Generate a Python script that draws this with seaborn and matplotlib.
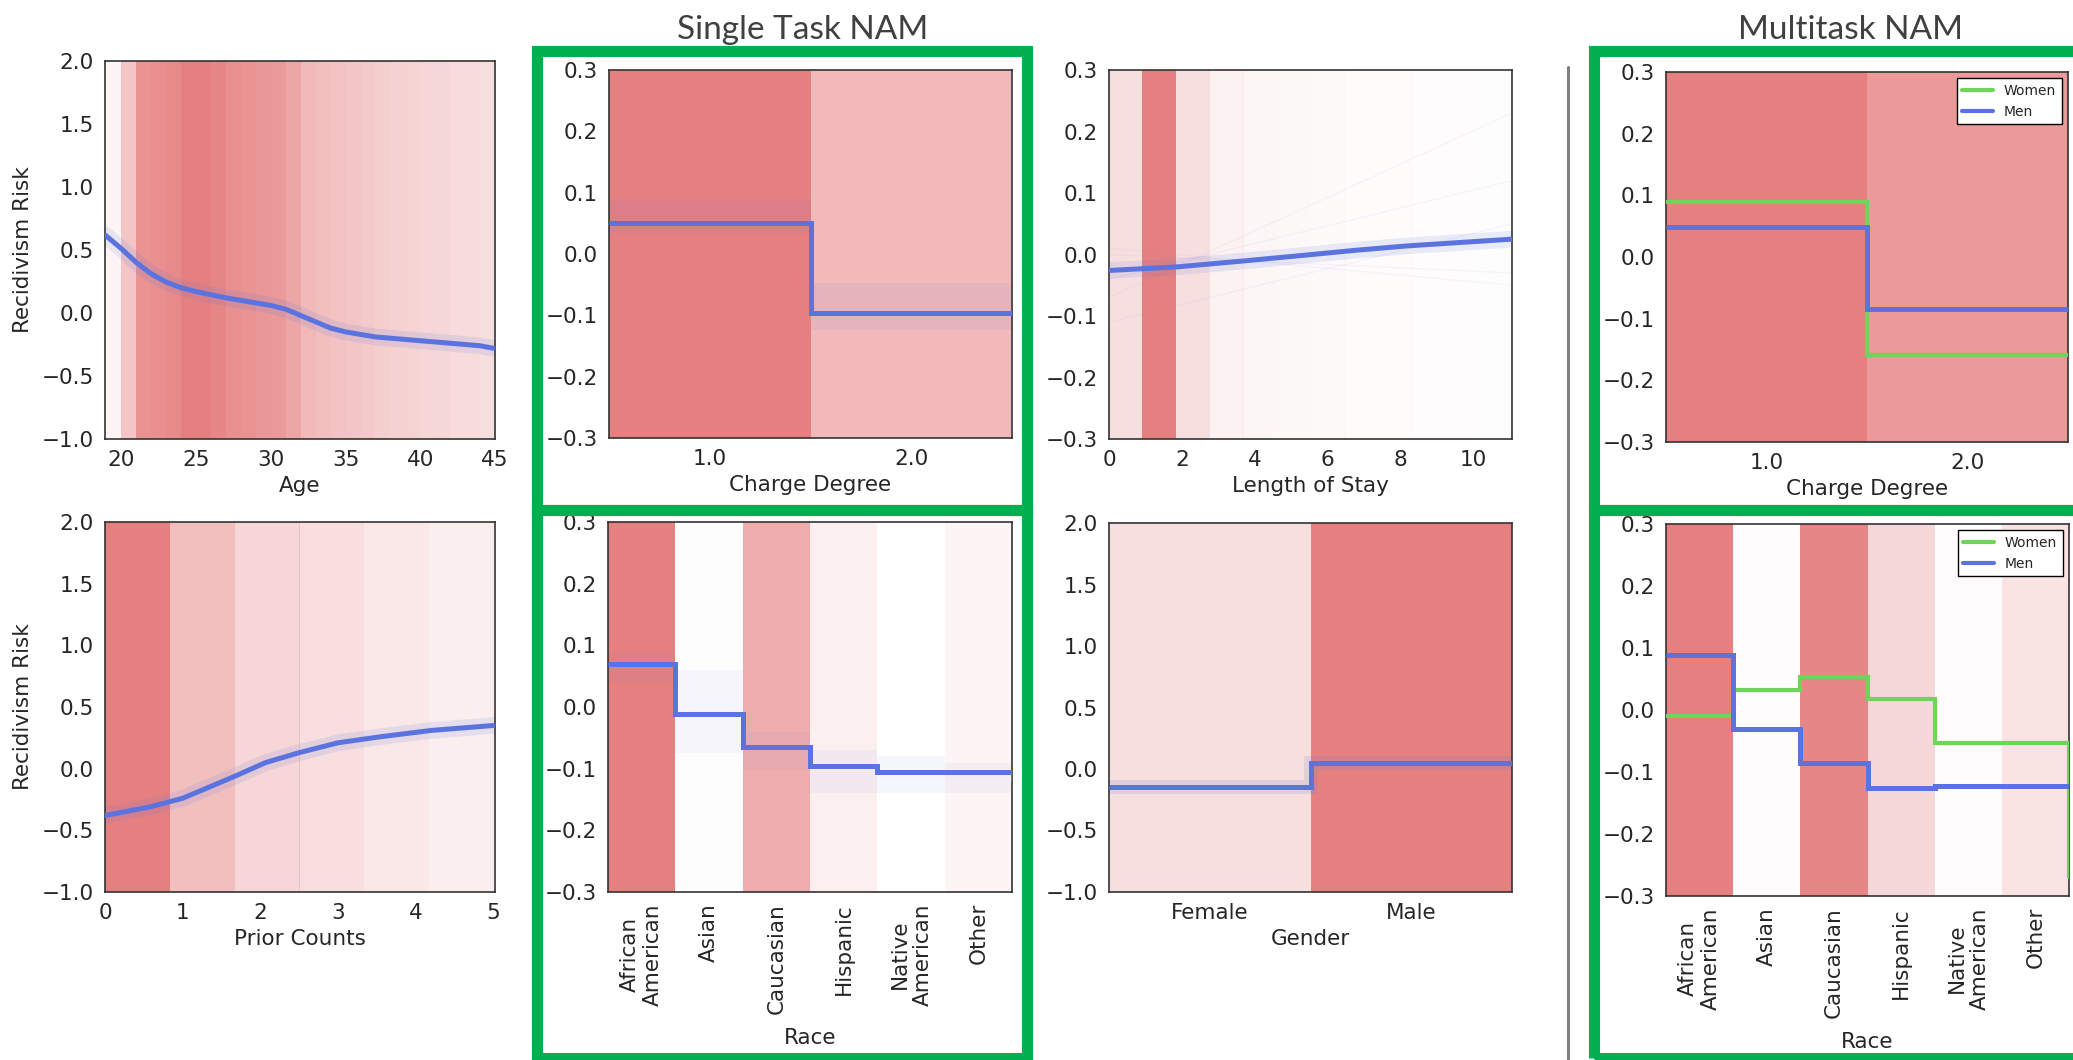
import numpy as np
import pandas as pd
import matplotlib
matplotlib.use("Agg")
import matplotlib.pyplot as plt
import seaborn as sns
from matplotlib.patches import Rectangle
from matplotlib.lines import Line2D
from matplotlib.ticker import FuncFormatter

# ---------------- data ----------------
# Age
age_bin_start = list(range(18, 45))
age_density = [0.08, 0.08, 0.45, 0.85, 0.88, 0.92, 1.0, 1.0, 0.95, 0.88, 0.85, 0.82,
               0.8, 0.7, 0.55, 0.5, 0.48, 0.45, 0.42, 0.38, 0.36, 0.34, 0.32, 0.3,
               0.28, 0.27, 0.25]
age_x = [18.9, 20.0, 21.0, 22.0, 23.0, 24.0, 25.0, 26.0, 27.0, 28.0, 29.0, 30.0, 31.0,
         32.0, 33.0, 34.0, 35.0, 36.0, 37.0, 38.0, 40.0, 42.0, 44.0, 44.9]
age_y = [0.62, 0.51, 0.40, 0.31, 0.245, 0.20, 0.17, 0.145, 0.12, 0.10, 0.08, 0.06, 0.03,
         -0.02, -0.07, -0.12, -0.15, -0.17, -0.19, -0.20, -0.22, -0.24, -0.26, -0.28]
age_ticks = [20, 25, 30, 35, 40, 45]

# Prior counts
prior_bin_start = [0.0, 0.833, 1.667, 2.5, 3.333, 4.167]
prior_bin_width = 0.84
prior_density = [1.0, 0.5, 0.32, 0.26, 0.18, 0.13]
prior_x = [0.0, 0.58, 1.0, 1.64, 2.07, 2.5, 3.0, 3.56, 4.2, 5.0]
prior_y = [-0.38, -0.31, -0.24, -0.07, 0.05, 0.13, 0.21, 0.26, 0.31, 0.35]

# Charge degree (single task)
charge_levels = [1.0, 2.0]
charge_labels = ["1.0", "2.0"]
charge_density = [1.0, 0.55]
charge_single = [0.051, -0.097]
charge_single_lo = [0.034, -0.124]
charge_single_hi = [0.088, -0.047]

# Length of stay
los_bin_start = [0.0, 0.92, 1.85, 2.77, 3.69, 4.61, 5.54, 6.46, 7.38, 8.30, 9.23, 10.15]
los_bin_width = 0.93
los_density = [0.25, 1.0, 0.25, 0.1, 0.07, 0.05, 0.04, 0.03, 0.03, 0.02, 0.02, 0.01]
los_x = [0.0, 1.9, 3.6, 5.4, 6.8, 8.2, 11.07]
los_y = [-0.026, -0.02, -0.011, -0.001, 0.007, 0.014, 0.025]
los_ens_start = [-0.11, -0.07, -0.04, 0.0, 0.01]
los_ens_end = [0.05, 0.23, 0.12, -0.03, -0.05]
los_ticks = [0, 2, 4, 6, 8, 10]

# Race (single task)
race_levels = ["African\nAmerican", "Asian", "Caucasian", "Hispanic", "Native\nAmerican", "Other"]
race_density_single = [1.0, 0.01, 0.65, 0.12, 0.0, 0.08]
race_single = [0.07, -0.012, -0.065, -0.095, -0.106, -0.106]
race_single_end = -0.12
race_single_lo = [0.04, -0.075, -0.1, -0.14, -0.14, -0.14]
race_single_hi = [0.09, 0.06, -0.04, -0.07, -0.08, -0.09]

# Gender
gender_levels = ["Female", "Male"]
gender_density = [0.25, 1.0]
gender_y = [-0.15, 0.05]

# Multitask charge degree
mt_charge_density = [1.0, 0.8]
mt_charge_women = [0.09, -0.159]
mt_charge_men = [0.049, -0.085]

# Multitask race
mt_race_density = [1.0, 0.02, 0.95, 0.3, 0.02, 0.22]
mt_race_men = [0.089, -0.031, -0.085, -0.125, -0.122, -0.122]
mt_race_women = [-0.01, 0.032, 0.054, 0.017, -0.054, -0.054]
mt_race_women_end = -0.27

# ---------------- style ----------------
sns.set_style("white")
plt.rcParams['font.family'] = ['DejaVu Sans']

BLUE = '#5B73DF'
GREEN = '#6ED45A'
RED = (0.9, 0.5, 0.5)
BOXGREEN = '#00B050'
FS = 15.5
TXT = '#262626'

W, H = 2073, 1060
DPI = 100
fig = plt.figure(figsize=(W / DPI, H / DPI), dpi=DPI)
fig.patch.set_facecolor('white')


def add_ax(x0, y0, x1, y1):
    return fig.add_axes([x0 / W, 1 - y1 / H, (x1 - x0) / W, (y1 - y0) / H])


def fmt(v, p):
    if abs(v) < 1e-9:
        v = 0.0
    return f'{v:.1f}'.replace('-', '\u2212')


def style(ax, xlim, ylim, yticks):
    ax.set_xlim(*xlim)
    ax.set_ylim(*ylim)
    ax.set_yticks(yticks)
    ax.yaxis.set_major_formatter(FuncFormatter(fmt))
    ax.tick_params(length=0, pad=8, labelsize=FS, colors=TXT)
    for s in ax.spines.values():
        s.set_visible(True)
        s.set_color('#333333')
        s.set_linewidth(1.2)
    ax.grid(False)
    ax.set_facecolor('white')


def shade(ax, starts, width, dens):
    for s0, a in zip(starts, dens):
        ax.axvspan(s0, s0 + width, color=RED, alpha=a, lw=0, zorder=0, antialiased=False)


def shade_cat(ax, positions, dens):
    for p, a in zip(positions, dens):
        ax.axvspan(p - 0.5, p + 0.5, color=RED, alpha=a, lw=0, zorder=0, antialiased=False)


def curve(ax, xs, ys):
    df = pd.DataFrame({'x': xs, 'y': ys})
    sns.lineplot(data=df, x='x', y='y', ax=ax, color=BLUE, linewidth=12, alpha=0.13, zorder=2)
    sns.lineplot(data=df, x='x', y='y', ax=ax, color=BLUE, linewidth=3.6, zorder=3)
    ax.set_xlabel('')
    ax.set_ylabel('')


ytk_big = [-1.0, -0.5, 0.0, 0.5, 1.0, 1.5, 2.0]
ytk_small = [-0.3, -0.2, -0.1, 0.0, 0.1, 0.2, 0.3]

# ---- Age ----
ax = add_ax(105, 61, 495, 439)
style(ax, (18.9, 44.9), (-1.0, 2.0), ytk_big)
shade(ax, age_bin_start, 1.0, age_density)
curve(ax, age_x, age_y)
ax.set_xticks(age_ticks)
ax.set_xlabel('Age', fontsize=FS, color=TXT, labelpad=4)
ax.set_ylabel('Recidivism Risk', fontsize=FS, color=TXT, labelpad=6)

# ---- Prior counts ----
ax = add_ax(105, 522, 495, 892)
style(ax, (0, 5.02), (-1.0, 2.0), ytk_big)
shade(ax, prior_bin_start, prior_bin_width, prior_density)
curve(ax, prior_x, prior_y)
ax.set_xticks([0, 1, 2, 3, 4, 5])
ax.set_xlabel('Prior Counts', fontsize=FS, color=TXT, labelpad=4)
ax.set_ylabel('Recidivism Risk', fontsize=FS, color=TXT, labelpad=6)

# ---- Charge degree single ----
ax = add_ax(609, 70, 1012, 438)
style(ax, (0.5, 2.5), (-0.3, 0.3), ytk_small)
shade_cat(ax, charge_levels, charge_density)
edges = [c - 0.5 for c in charge_levels] + [charge_levels[-1] + 0.5]
ax.stairs(charge_single_hi, edges, baseline=charge_single_lo, fill=True, color=BLUE, alpha=0.08, lw=0, zorder=2)
ax.stairs(charge_single, edges, baseline=None, color=BLUE, lw=3.6, zorder=3)
ax.set_xticks(charge_levels)
ax.set_xticklabels(charge_labels)
ax.set_xlabel('Charge Degree', fontsize=FS, color=TXT, labelpad=4)

# ---- Race single ----
ax = add_ax(608, 522, 1012, 892)
style(ax, (-0.5, 5.5), (-0.3, 0.3), ytk_small)
pos = np.arange(len(race_levels))
shade_cat(ax, pos, race_density_single)
redges = np.arange(len(race_levels) + 1) - 0.5
ax.stairs(race_single_hi, redges, baseline=race_single_lo, fill=True, color=BLUE, alpha=0.05, lw=0, zorder=2)
ax.stairs(race_single, redges, baseline=None, color=BLUE, lw=3.6, zorder=3)
ax.plot([redges[-1], redges[-1]], [race_single[-1], race_single_end], color=BLUE, lw=2, zorder=3)
ax.set_xticks(pos)
ax.set_xticklabels(race_levels, rotation=90, fontsize=FS, color=TXT)
ax.set_xlabel('Race', fontsize=FS, color=TXT, labelpad=10)

# ---- Length of stay ----
ax = add_ax(1109, 70, 1512, 439)
style(ax, (0, 11.07), (-0.3, 0.3), ytk_small)
shade(ax, los_bin_start, los_bin_width, los_density)
for s0, e0 in zip(los_ens_start, los_ens_end):
    ax.plot([los_x[0], los_x[-1]], [s0, e0], color=BLUE, lw=1, alpha=0.06, zorder=1)
curve(ax, los_x, los_y)
ax.set_xticks(los_ticks)
ax.set_xlabel('Length of Stay', fontsize=FS, color=TXT, labelpad=4)

# ---- Gender ----
ax = add_ax(1109, 523, 1512, 892)
style(ax, (-0.5, 1.5), (-1.0, 2.0), ytk_big)
gpos = np.arange(len(gender_levels))
shade_cat(ax, gpos, gender_density)
gedges = np.arange(len(gender_levels) + 1) - 0.5
ax.stairs(gender_y, gedges, baseline=None, color=BLUE, lw=10, alpha=0.15, zorder=2)
ax.stairs(gender_y, gedges, baseline=None, color=BLUE, lw=3.6, zorder=3)
ax.set_xticks(gpos)
ax.set_xticklabels(gender_levels)
ax.set_xlabel('Gender', fontsize=FS, color=TXT, labelpad=4)

legend_handles = [Line2D([0], [0], color=GREEN, lw=3, label='Women'),
                  Line2D([0], [0], color=BLUE, lw=3, label='Men')]


def mt_legend(ax):
    lg = ax.legend(handles=legend_handles, loc='upper right', fontsize=10, frameon=True,
                   fancybox=False, edgecolor='black', framealpha=1, borderaxespad=0.45,
                   handlelength=2.2, labelcolor=TXT)
    lg.get_frame().set_linewidth(1.0)


# ---- Multitask charge degree ----
ax = add_ax(1666, 72, 2068, 442)
style(ax, (0.5, 2.5), (-0.3, 0.3), ytk_small)
shade_cat(ax, charge_levels, mt_charge_density)
ax.stairs(mt_charge_women, edges, baseline=None, color=GREEN, lw=3.0, zorder=3)
ax.stairs(mt_charge_men, edges, baseline=None, color=BLUE, lw=3.6, zorder=4)
ax.set_xticks(charge_levels)
ax.set_xticklabels(charge_labels)
ax.set_xlabel('Charge Degree', fontsize=FS, color=TXT, labelpad=4)
mt_legend(ax)

# ---- Multitask race ----
ax = add_ax(1666, 524, 2069, 896)
style(ax, (-0.5, 5.5), (-0.3, 0.3), ytk_small)
shade_cat(ax, pos, mt_race_density)
ax.stairs(mt_race_women, redges, baseline=None, color=GREEN, lw=3.0, zorder=3)
ax.plot([redges[-1], redges[-1]], [mt_race_women[-1], mt_race_women_end], color=GREEN, lw=3.0, zorder=3)
ax.stairs(mt_race_men, redges, baseline=None, color=BLUE, lw=3.6, zorder=4)
ax.set_xticks(pos)
ax.set_xticklabels(race_levels, rotation=90, fontsize=FS, color=TXT)
ax.set_xlabel('Race', fontsize=FS, color=TXT, labelpad=10)
mt_legend(ax)

# ---------------- decorations ----------------
def box(x0, y0, x1, y1):
    fig.add_artist(Rectangle((x0 / W, 1 - y1 / H), (x1 - x0) / W, (y1 - y0) / H,
                             transform=fig.transFigure, fill=False,
                             edgecolor=BOXGREEN, lw=8, zorder=10, clip_on=False))

box(537, 51, 1027, 509.5)
box(537, 509.5, 1027, 1058)
box(1594, 51, 2090, 510)
box(1594, 510, 2090, 1058)

fig.add_artist(Line2D([1568 / W, 1568 / W], [1 - 67 / H, 0.0], transform=fig.transFigure,
                      color='#7f7f7f', lw=2.2))

fig.text(803 / W, 1 - 30 / H, 'Single Task NAM', ha='center', va='center', fontsize=24,
         family=['Lato', 'DejaVu Sans'], color='#404040')
fig.text(1850 / W, 1 - 30 / H, 'Multitask NAM', ha='center', va='center', fontsize=24,
         family=['Lato', 'DejaVu Sans'], color='#404040')

fig.savefig('out.png', dpi=DPI, facecolor='white')
